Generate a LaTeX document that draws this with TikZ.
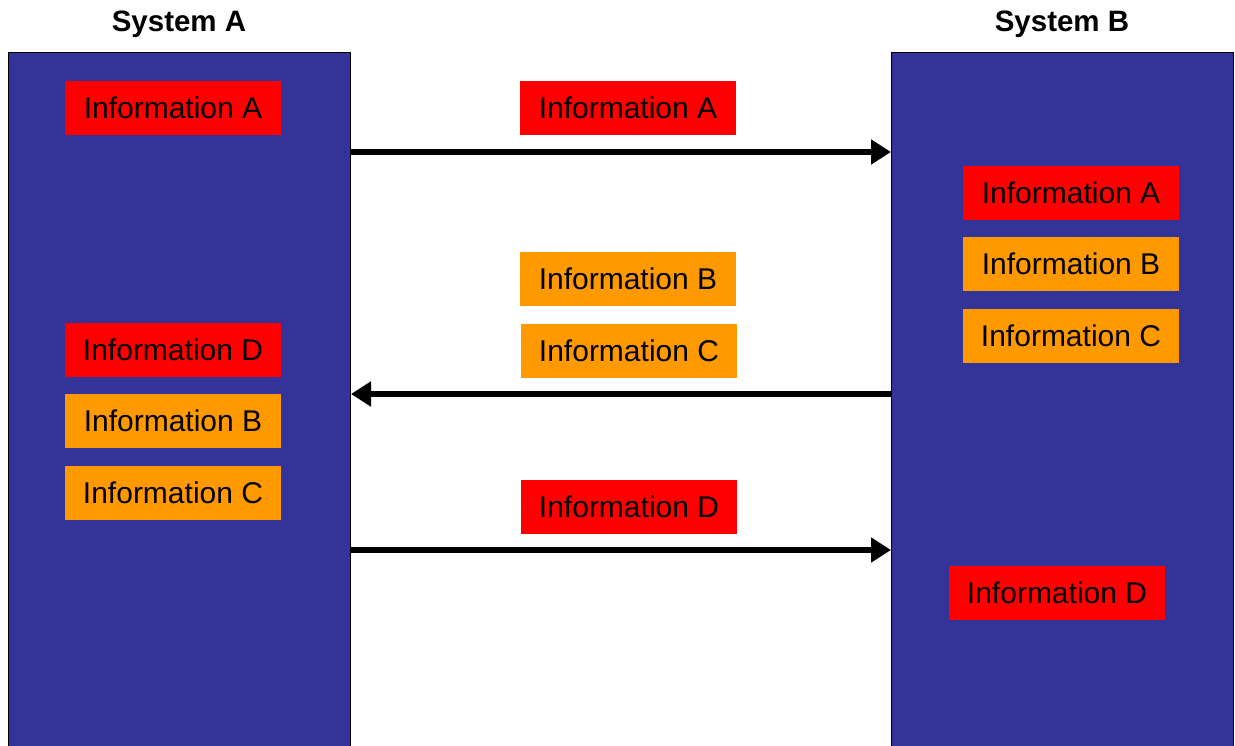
\documentclass[tikz,border=0pt]{standalone}
\usepackage{fontspec}
\setmainfont{Liberation Sans}
\usetikzlibrary{arrows.meta}
\definecolor{sysblue}{HTML}{333399}
\definecolor{infored}{HTML}{FF0000}
\definecolor{infoorange}{HTML}{FF9900}
\begin{document}
\begin{tikzpicture}[x=1pt,y=-1pt,
  system/.style={draw=black,line width=1pt,fill=sysblue,minimum width=342pt,minimum height=720pt,inner sep=0pt,anchor=north west},
  title/.style={font=\fontsize{29.5}{34}\selectfont\bfseries,inner sep=0pt,text height=21pt,text depth=0pt,anchor=center},
  info/.style={minimum width=216pt,minimum height=54pt,inner sep=0pt,text height=21pt,text depth=0pt,font=\fontsize{30}{34}\selectfont},
  infored/.style={info,fill=infored},
  infoorange/.style={info,fill=infoorange},
  flow/.style={line width=6pt,-{Triangle[length=20pt,width=24pt]}}]
\useasboundingbox (0,0) rectangle (1235,746);
\begin{scope}
\clip (0,0) rectangle (1235,746);
% the two systems
\node[system] (sysA) at (8,52) {};
\node[system] (sysB) at (891,52) {};
\end{scope}
\node[title] (titleA) at (179,21) {System A};
\node[title] (titleB) at (1062,21) {System B};
% information held by System A
\node[infored] (aA) at (173,108) {Information A};
\node[infored] (aD) at (173,350) {Information D};
\node[infoorange] (aB) at (173,421) {Information B};
\node[infoorange] (aC) at (173,493) {Information C};
% information held by System B
\node[infored] (bA) at (1071,193) {Information A};
\node[infoorange] (bB) at (1071,264) {Information B};
\node[infoorange] (bC) at (1071,336) {Information C};
\node[infored] (bD) at (1057,593) {Information D};
% information in transit
\node[infored] (tA) at (628,108) {Information A};
\node[infoorange] (tB) at (628,279) {Information B};
\node[infoorange] (tC) at (629,351) {Information C};
\node[infored] (tD) at (629,507) {Information D};
% transfers
\draw[flow] (sysA.east |- 0,152) -- (sysB.west |- 0,152);
\draw[flow] (sysB.west |- 0,394) -- (sysA.east |- 0,394);
\draw[flow] (sysA.east |- 0,550) -- (sysB.west |- 0,550);
\end{tikzpicture}
\end{document}
